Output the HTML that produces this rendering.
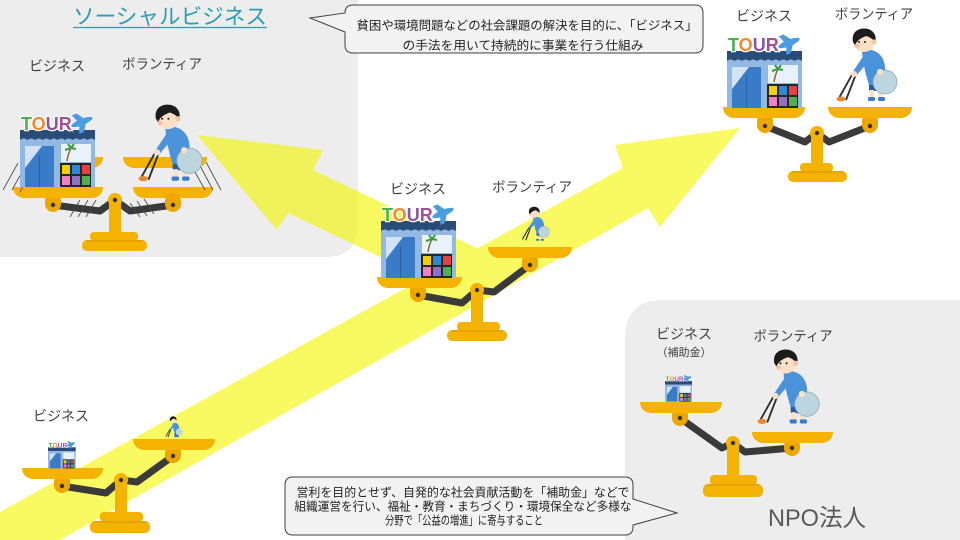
<!DOCTYPE html>
<html><head><meta charset="utf-8"><style>
html,body{margin:0;padding:0;background:#fff;}
svg{display:block;}
text{font-family:"Liberation Sans","Noto Sans CJK JP",sans-serif;}
</style></head><body>
<svg width="960" height="540" viewBox="0 0 960 540" xmlns="http://www.w3.org/2000/svg">
<!-- gray panels -->
<path d="M0,0 H358 V225 Q358,257 326,257 H0 Z" fill="#ededed"/>
<path d="M625,540 V338 Q625,300 663,300 H960 V540 Z" fill="#ededed"/>

<!-- arrows -->
<g fill="#f5f500" opacity="0.62">
<path d="M197,135 L323,150 L313,170 L485,252 L462,296 L288,213 L277,230 Z"/>
<path d="M0,512 L623,168 L615,145 L740,128 L660,227 L648,208 L60,540 L0,540 Z"/>
</g>

<!-- callout 1 -->
<path d="M353,5 H695 Q703,5 703,13 V45 Q703,53 695,53 H353 Q345,53 345,45 V32 L310,18 L345,13 Q345,5 353,5 Z" fill="#f2f2f2" stroke="#404040" stroke-width="1"/>
<text x="527" y="29.5" font-size="12" fill="#222" text-anchor="middle" textLength="341" lengthAdjust="spacingAndGlyphs">貧困や環境問題などの社会課題の解決を目的に、「ビジネス」</text>
<text x="523" y="49.5" font-size="12" fill="#222" text-anchor="middle" textLength="241" lengthAdjust="spacingAndGlyphs">の手法を用いて持続的に事業を行う仕組み</text>

<!-- callout 2 -->
<path d="M293,477 H625 Q633,477 633,485 V499 L677,513 L633,525 V527 Q633,535 625,535 H293 Q285,535 285,527 V485 Q285,477 293,477 Z" fill="#f2f2f2" stroke="#404040" stroke-width="1"/>
<text x="463" y="496.5" font-size="12" fill="#222" text-anchor="middle" textLength="333" lengthAdjust="spacingAndGlyphs">営利を目的とせず、自発的な社会貢献活動を「補助金」などで</text>
<text x="463" y="510.5" font-size="12" fill="#222" text-anchor="middle" textLength="337" lengthAdjust="spacingAndGlyphs">組織運営を行い、福祉・教育・まちづくり・環境保全など多様な</text>
<text x="464" y="524.5" font-size="12" fill="#222" text-anchor="middle" textLength="158" lengthAdjust="spacingAndGlyphs">分野で「公益の増進」に寄与すること</text>

<!-- title -->
<text x="73" y="24" font-size="21.5" fill="#2a9db0" textLength="194" lengthAdjust="spacingAndGlyphs">ソーシャルビジネス</text>
<line x1="73" y1="27.5" x2="267" y2="27.5" stroke="#2a9db0" stroke-width="1.3"/>

<!-- ========== TOP-LEFT SCALE ========== -->
<g>
<path d="M24,157 H103 C103,163 99,167 93,168 H34 C28,167 24,163 24,157 Z" fill="#f5b301"/>
<path d="M133,187 H213 C213,193 209,197 203,198 H143 C137,197 133,193 133,187 Z" fill="#f5b301"/>
<polyline points="53,205 100,211 115,200 130,211 173,205" fill="none" stroke="#3a3a3a" stroke-width="7" stroke-linejoin="round"/>
<rect x="109" y="200" width="12" height="35" fill="#f5b301"/>
<rect x="90" y="232" width="48" height="9" rx="4" fill="#f5b301"/>
<rect x="82" y="240" width="65" height="11" rx="5" fill="#f5b301"/>
<line x1="86" y1="241" x2="143" y2="241" stroke="#d99600" stroke-width="1"/>
<rect x="45" y="193" width="16" height="19" rx="8" fill="#eea600"/>
<circle cx="53" cy="205" r="2.2" fill="#333"/>
<rect x="165" y="193" width="16" height="19" rx="8" fill="#eea600"/>
<circle cx="173" cy="205" r="2.2" fill="#333"/>
<path d="M13,187 H103 C103,193 99,197 93,198 H23 C17,197 13,193 13,187 Z" fill="#f5b301"/>
<path d="M123,157 H207 C207,163 203,167 197,168 H133 C127,167 123,163 123,157 Z" fill="#f5b301"/>
<circle cx="115" cy="200" r="7" fill="#f5b301"/>
<circle cx="115" cy="200" r="2.2" fill="#333"/>
<g stroke="#444" stroke-width="0.8">
<line x1="3" y1="190" x2="18" y2="163"/><line x1="12" y1="190" x2="27" y2="163"/><line x1="20" y1="192" x2="33" y2="167"/>
<line x1="190" y1="163" x2="205" y2="190"/><line x1="198" y1="162" x2="213" y2="190"/><line x1="206" y1="162" x2="221" y2="190"/>
<line x1="70" y1="217" x2="80" y2="200"/><line x1="78" y1="217" x2="88" y2="200"/><line x1="86" y1="217" x2="96" y2="200"/>
<line x1="130" y1="203" x2="140" y2="217"/><line x1="137" y1="201" x2="147" y2="216"/><line x1="144" y1="199" x2="154" y2="214"/>
</g>
</g>

<!-- ========== TOP-RIGHT SCALE ========== -->
<g>
<polyline points="765,126 805,142 817,133 829,142 870,126" fill="none" stroke="#3a3a3a" stroke-width="7" stroke-linejoin="round"/>
<rect x="811" y="133" width="12" height="32" fill="#f5b301"/>
<rect x="800" y="163" width="33" height="9" rx="4" fill="#f5b301"/>
<rect x="788" y="171" width="59" height="11" rx="5" fill="#f5b301"/>
<line x1="792" y1="172" x2="843" y2="172" stroke="#d99600" stroke-width="1"/>
<rect x="757" y="113" width="16" height="20" rx="8" fill="#eea600"/>
<circle cx="765" cy="126" r="2.2" fill="#333"/>
<rect x="862" y="113" width="16" height="20" rx="8" fill="#eea600"/>
<circle cx="870" cy="126" r="2.2" fill="#333"/>
<path d="M723,107 H805 C805,113 801,117 795,118 H733 C727,117 723,113 723,107 Z" fill="#f5b301"/>
<path d="M828,107 H912 C912,113 908,117 902,118 H838 C832,117 828,113 828,107 Z" fill="#f5b301"/>
<circle cx="817" cy="133" r="7" fill="#f5b301"/>
<circle cx="817" cy="133" r="2.2" fill="#333"/>
</g>

<!-- ========== MIDDLE SCALE ========== -->
<g>
<polyline points="418,295 462,303 477,290 494,292 530,265" fill="none" stroke="#3a3a3a" stroke-width="7" stroke-linejoin="round"/>
<rect x="471" y="290" width="12" height="34" fill="#f5b301"/>
<rect x="457" y="322" width="43" height="9" rx="4" fill="#f5b301"/>
<rect x="447" y="330" width="60" height="11" rx="5" fill="#f5b301"/>
<line x1="451" y1="331" x2="503" y2="331" stroke="#d99600" stroke-width="1"/>
<rect x="410" y="283" width="16" height="19" rx="8" fill="#eea600"/>
<circle cx="418" cy="295" r="2.2" fill="#333"/>
<rect x="522" y="253" width="16" height="19" rx="8" fill="#eea600"/>
<circle cx="530" cy="265" r="2.2" fill="#333"/>
<path d="M377,277 H462 C462,283 458,287 452,288 H387 C381,287 377,283 377,277 Z" fill="#f5b301"/>
<path d="M488,247 H572 C572,253 568,257 562,258 H498 C492,257 488,253 488,247 Z" fill="#f5b301"/>
<circle cx="477" cy="290" r="7" fill="#f5b301"/>
<circle cx="477" cy="290" r="2.2" fill="#333"/>
</g>

<!-- ========== BOTTOM-LEFT SCALE ========== -->
<g>
<polyline points="62,486 106,493 121,480 137,482 173,456" fill="none" stroke="#3a3a3a" stroke-width="7" stroke-linejoin="round"/>
<rect x="115" y="480" width="12" height="34" fill="#f5b301"/>
<rect x="100" y="512" width="43" height="10" rx="4" fill="#f5b301"/>
<rect x="90" y="521" width="60" height="12" rx="5" fill="#f5b301"/>
<line x1="94" y1="522" x2="146" y2="522" stroke="#d99600" stroke-width="1"/>
<rect x="54" y="474" width="16" height="19" rx="8" fill="#eea600"/>
<circle cx="62" cy="486" r="2.2" fill="#333"/>
<rect x="165" y="445" width="16" height="18" rx="8" fill="#eea600"/>
<circle cx="173" cy="456" r="2.2" fill="#333"/>
<path d="M22,468 H103 C103,474 99,478 93,479 H32 C26,478 22,474 22,468 Z" fill="#f5b301"/>
<path d="M133,439 H215 C215,445 211,449 205,450 H143 C137,449 133,445 133,439 Z" fill="#f5b301"/>
<circle cx="121" cy="480" r="7" fill="#f5b301"/>
<circle cx="121" cy="480" r="2.2" fill="#333"/>
</g>

<!-- ========== NPO SCALE ========== -->
<g>
<polyline points="680,418 722,448 733,443 745,452 792,448" fill="none" stroke="#3a3a3a" stroke-width="7" stroke-linejoin="round"/>
<rect x="727" y="443" width="12" height="34" fill="#f5b301"/>
<rect x="710" y="475" width="47" height="10" rx="4" fill="#f5b301"/>
<rect x="703" y="484" width="60" height="13" rx="5" fill="#f5b301"/>
<line x1="707" y1="485" x2="759" y2="485" stroke="#d99600" stroke-width="1"/>
<rect x="672" y="408" width="16" height="18" rx="8" fill="#eea600"/>
<circle cx="680" cy="418" r="2.2" fill="#333"/>
<rect x="784" y="438" width="16" height="18" rx="8" fill="#eea600"/>
<circle cx="792" cy="448" r="2.2" fill="#333"/>
<path d="M640,402 H722 C722,408 718,412 712,413 H650 C644,412 640,408 640,402 Z" fill="#f5b301"/>
<path d="M752,432 H833 C833,438 829,442 823,443 H762 C756,442 752,438 752,432 Z" fill="#f5b301"/>
<circle cx="733" cy="443" r="7" fill="#f5b301"/>
<circle cx="733" cy="443" r="2.2" fill="#333"/>
</g>

<!-- ========== STORES ========== -->
<g transform="translate(20,113)">
<rect x="0" y="17" width="75" height="10" fill="#2b4b78"/>
<path d="M0,27 Q3.75,24 7.5,27 Q11.25,24 15,27 Q18.75,24 22.5,27 Q26.25,24 30,27 Q33.75,24 37.5,27 Q41.25,24 45,27 Q48.75,24 52.5,27 Q56.25,24 60,27 Q63.75,24 67.5,27 Q71.25,24 75,27 V74 H0 Z" fill="#92b8e4"/>
<rect x="5" y="33" width="29" height="41" fill="#3a7bc8"/>
<path d="M5,33 H22 L5,55 Z" fill="#d3e3f5"/>
<line x1="19.5" y1="42" x2="19.5" y2="74" stroke="#245a9e" stroke-width="0.8"/>
<rect x="41" y="31" width="30" height="18" fill="#e9f2fa"/>
<path d="M47,48 Q48,41 51,35" stroke="#8a6a3a" stroke-width="1.5" fill="none"/>
<path d="M51,35 l-6,2 M51,35 l5,1 M51,35 l-3,-4 M51,35 l3,-4" stroke="#3f9a3f" stroke-width="2" fill="none"/>
<rect x="40" y="50" width="31" height="24" fill="#262626"/>
<rect x="42" y="52" width="8" height="9" fill="#f5d000"/><rect x="52" y="52" width="8" height="9" fill="#2a8ad8"/><rect x="62" y="52" width="8" height="9" fill="#e84040"/>
<rect x="42" y="63" width="8" height="9" fill="#f080c0"/><rect x="52" y="63" width="8" height="9" fill="#9070c0"/><rect x="62" y="63" width="8" height="9" fill="#50b050"/>
<text x="1" y="17" font-family="Liberation Sans" font-weight="bold" font-size="18" stroke="#fff" stroke-width="2.5" paint-order="stroke"><tspan fill="#4db04a">T</tspan><tspan fill="#f08a2a">O</tspan><tspan fill="#8b55a8">U</tspan><tspan fill="#a0509a">R</tspan></text>
<g transform="translate(62,9) rotate(-22)"><ellipse rx="12" ry="3.8" fill="#4a9de0" stroke="#fff" stroke-width="1"/><path d="M-3,0 L-7,-10 L-2,-10 L5,0 L-2,10 L-7,10 Z" fill="#4a9de0"/></g>
</g>

<g transform="translate(727,34)">
<rect x="0" y="17" width="75" height="10" fill="#2b4b78"/>
<path d="M0,27 Q3.75,24 7.5,27 Q11.25,24 15,27 Q18.75,24 22.5,27 Q26.25,24 30,27 Q33.75,24 37.5,27 Q41.25,24 45,27 Q48.75,24 52.5,27 Q56.25,24 60,27 Q63.75,24 67.5,27 Q71.25,24 75,27 V74 H0 Z" fill="#92b8e4"/>
<rect x="5" y="33" width="29" height="41" fill="#3a7bc8"/>
<path d="M5,33 H22 L5,55 Z" fill="#d3e3f5"/>
<line x1="19.5" y1="42" x2="19.5" y2="74" stroke="#245a9e" stroke-width="0.8"/>
<rect x="41" y="31" width="30" height="18" fill="#e9f2fa"/>
<path d="M47,48 Q48,41 51,35" stroke="#8a6a3a" stroke-width="1.5" fill="none"/>
<path d="M51,35 l-6,2 M51,35 l5,1 M51,35 l-3,-4 M51,35 l3,-4" stroke="#3f9a3f" stroke-width="2" fill="none"/>
<rect x="40" y="50" width="31" height="24" fill="#262626"/>
<rect x="42" y="52" width="8" height="9" fill="#f5d000"/><rect x="52" y="52" width="8" height="9" fill="#2a8ad8"/><rect x="62" y="52" width="8" height="9" fill="#e84040"/>
<rect x="42" y="63" width="8" height="9" fill="#f080c0"/><rect x="52" y="63" width="8" height="9" fill="#9070c0"/><rect x="62" y="63" width="8" height="9" fill="#50b050"/>
<text x="1" y="17" font-family="Liberation Sans" font-weight="bold" font-size="18" stroke="#fff" stroke-width="2.5" paint-order="stroke"><tspan fill="#4db04a">T</tspan><tspan fill="#f08a2a">O</tspan><tspan fill="#8b55a8">U</tspan><tspan fill="#a0509a">R</tspan></text>
<g transform="translate(62,9) rotate(-22)"><ellipse rx="12" ry="3.8" fill="#4a9de0" stroke="#fff" stroke-width="1"/><path d="M-3,0 L-7,-10 L-2,-10 L5,0 L-2,10 L-7,10 Z" fill="#4a9de0"/></g>
</g>

<g transform="translate(381,204)">
<rect x="0" y="17" width="75" height="10" fill="#2b4b78"/>
<path d="M0,27 Q3.75,24 7.5,27 Q11.25,24 15,27 Q18.75,24 22.5,27 Q26.25,24 30,27 Q33.75,24 37.5,27 Q41.25,24 45,27 Q48.75,24 52.5,27 Q56.25,24 60,27 Q63.75,24 67.5,27 Q71.25,24 75,27 V74 H0 Z" fill="#92b8e4"/>
<rect x="5" y="33" width="29" height="41" fill="#3a7bc8"/>
<path d="M5,33 H22 L5,55 Z" fill="#d3e3f5"/>
<line x1="19.5" y1="42" x2="19.5" y2="74" stroke="#245a9e" stroke-width="0.8"/>
<rect x="41" y="31" width="30" height="18" fill="#e9f2fa"/>
<path d="M47,48 Q48,41 51,35" stroke="#8a6a3a" stroke-width="1.5" fill="none"/>
<path d="M51,35 l-6,2 M51,35 l5,1 M51,35 l-3,-4 M51,35 l3,-4" stroke="#3f9a3f" stroke-width="2" fill="none"/>
<rect x="40" y="50" width="31" height="24" fill="#262626"/>
<rect x="42" y="52" width="8" height="9" fill="#f5d000"/><rect x="52" y="52" width="8" height="9" fill="#2a8ad8"/><rect x="62" y="52" width="8" height="9" fill="#e84040"/>
<rect x="42" y="63" width="8" height="9" fill="#f080c0"/><rect x="52" y="63" width="8" height="9" fill="#9070c0"/><rect x="62" y="63" width="8" height="9" fill="#50b050"/>
<text x="1" y="17" font-family="Liberation Sans" font-weight="bold" font-size="18" stroke="#fff" stroke-width="2.5" paint-order="stroke"><tspan fill="#4db04a">T</tspan><tspan fill="#f08a2a">O</tspan><tspan fill="#8b55a8">U</tspan><tspan fill="#a0509a">R</tspan></text>
<g transform="translate(62,9) rotate(-22)"><ellipse rx="12" ry="3.8" fill="#4a9de0" stroke="#fff" stroke-width="1"/><path d="M-3,0 L-7,-10 L-2,-10 L5,0 L-2,10 L-7,10 Z" fill="#4a9de0"/></g>
</g>

<g transform="translate(48,441) scale(0.37)">
<rect x="0" y="17" width="75" height="10" fill="#2b4b78"/>
<rect x="0" y="27" width="75" height="47" fill="#92b8e4"/>
<rect x="5" y="33" width="29" height="41" fill="#3a7bc8"/>
<path d="M5,33 H22 L5,55 Z" fill="#d3e3f5"/>
<rect x="41" y="31" width="30" height="18" fill="#e9f2fa"/>
<rect x="40" y="50" width="31" height="24" fill="#262626"/>
<rect x="42" y="52" width="8" height="9" fill="#f5d000"/><rect x="52" y="52" width="8" height="9" fill="#2a8ad8"/><rect x="62" y="52" width="8" height="9" fill="#e84040"/>
<rect x="42" y="63" width="8" height="9" fill="#f080c0"/><rect x="52" y="63" width="8" height="9" fill="#9070c0"/><rect x="62" y="63" width="8" height="9" fill="#50b050"/>
<text x="1" y="17" font-family="Liberation Sans" font-weight="bold" font-size="18" stroke="#fff" stroke-width="2.5" paint-order="stroke"><tspan fill="#4db04a">T</tspan><tspan fill="#f08a2a">O</tspan><tspan fill="#8b55a8">U</tspan><tspan fill="#a0509a">R</tspan></text>
<g transform="translate(62,9) rotate(-22)"><ellipse rx="12" ry="3.8" fill="#4a9de0"/><path d="M-3,0 L-7,-10 L-2,-10 L5,0 L-2,10 L-7,10 Z" fill="#4a9de0"/></g>
</g>

<g transform="translate(665,375) scale(0.36)">
<rect x="0" y="17" width="75" height="10" fill="#2b4b78"/>
<rect x="0" y="27" width="75" height="47" fill="#92b8e4"/>
<rect x="5" y="33" width="29" height="41" fill="#3a7bc8"/>
<path d="M5,33 H22 L5,55 Z" fill="#d3e3f5"/>
<rect x="41" y="31" width="30" height="18" fill="#e9f2fa"/>
<rect x="40" y="50" width="31" height="24" fill="#262626"/>
<rect x="42" y="52" width="8" height="9" fill="#f5d000"/><rect x="52" y="52" width="8" height="9" fill="#2a8ad8"/><rect x="62" y="52" width="8" height="9" fill="#e84040"/>
<rect x="42" y="63" width="8" height="9" fill="#f080c0"/><rect x="52" y="63" width="8" height="9" fill="#9070c0"/><rect x="62" y="63" width="8" height="9" fill="#50b050"/>
<text x="1" y="17" font-family="Liberation Sans" font-weight="bold" font-size="18" stroke="#fff" stroke-width="2.5" paint-order="stroke"><tspan fill="#4db04a">T</tspan><tspan fill="#f08a2a">O</tspan><tspan fill="#8b55a8">U</tspan><tspan fill="#a0509a">R</tspan></text>
<g transform="translate(62,9) rotate(-22)"><ellipse rx="12" ry="3.8" fill="#4a9de0"/><path d="M-3,0 L-7,-10 L-2,-10 L5,0 L-2,10 L-7,10 Z" fill="#4a9de0"/></g>
</g>

<!-- ========== BOYS ========== -->
<g transform="translate(138,103) scale(1.05)">
<line x1="17" y1="46" x2="3" y2="71" stroke="#2d2d2d" stroke-width="1.8"/>
<line x1="20" y1="47" x2="10" y2="73" stroke="#2d2d2d" stroke-width="1.8"/>
<ellipse cx="5" cy="72" rx="4.5" ry="2.5" fill="#e98a2c"/>
<rect x="33" y="55" width="14" height="9" rx="2" fill="#2c5b98"/>
<rect x="34" y="63" width="4" height="8" fill="#fde0c6"/><rect x="42" y="63" width="4" height="8" fill="#fde0c6"/>
<rect x="32" y="70" width="7" height="4" rx="1.5" fill="#3a7cc9"/><rect x="42" y="70" width="7" height="4" rx="1.5" fill="#3a7cc9"/>
<path d="M26,24 C36,20 48,26 49,40 C50,50 47,58 33,58 C30,48 27,38 26,24 Z" fill="#4a92da"/>
<path d="M28,28 C24,34 20,40 16,46 L20,49 C25,43 30,38 34,32 Z" fill="#4a92da"/>
<circle cx="18" cy="47" r="3" fill="#fde0c6"/>
<circle cx="49" cy="55" r="12" fill="#bcd5df" stroke="#8eabb8" stroke-width="0.8"/>
<circle cx="44" cy="45" r="3" fill="#fde0c6"/>
<circle cx="28" cy="14" r="11" fill="#fde0c6"/>
<path d="M17,15 C15,4 24,0 32,2 C39,4 41,11 39,15 C36,11 33,10 30,9 C26,11 22,12 19,18 Z" fill="#1c1c1c"/>
<circle cx="38" cy="15" r="2.5" fill="#f6c6a4"/>
<circle cx="23" cy="15" r="1" fill="#222"/><circle cx="29" cy="15" r="1" fill="#222"/>
<circle cx="21" cy="19" r="2" fill="#f7a8a0" opacity=".7"/>
</g>

<g transform="translate(836,27)">
<line x1="17" y1="46" x2="3" y2="71" stroke="#2d2d2d" stroke-width="1.8"/>
<line x1="20" y1="47" x2="10" y2="73" stroke="#2d2d2d" stroke-width="1.8"/>
<ellipse cx="5" cy="72" rx="4.5" ry="2.5" fill="#e98a2c"/>
<rect x="33" y="55" width="14" height="9" rx="2" fill="#2c5b98"/>
<rect x="34" y="63" width="4" height="8" fill="#fde0c6"/><rect x="42" y="63" width="4" height="8" fill="#fde0c6"/>
<rect x="32" y="70" width="7" height="4" rx="1.5" fill="#3a7cc9"/><rect x="42" y="70" width="7" height="4" rx="1.5" fill="#3a7cc9"/>
<path d="M26,24 C36,20 48,26 49,40 C50,50 47,58 33,58 C30,48 27,38 26,24 Z" fill="#4a92da"/>
<path d="M28,28 C24,34 20,40 16,46 L20,49 C25,43 30,38 34,32 Z" fill="#4a92da"/>
<circle cx="18" cy="47" r="3" fill="#fde0c6"/>
<circle cx="49" cy="55" r="12" fill="#bcd5df" stroke="#8eabb8" stroke-width="0.8"/>
<circle cx="44" cy="45" r="3" fill="#fde0c6"/>
<circle cx="28" cy="14" r="11" fill="#fde0c6"/>
<path d="M17,15 C15,4 24,0 32,2 C39,4 41,11 39,15 C36,11 33,10 30,9 C26,11 22,12 19,18 Z" fill="#1c1c1c"/>
<circle cx="38" cy="15" r="2.5" fill="#f6c6a4"/>
<circle cx="23" cy="15" r="1" fill="#222"/><circle cx="29" cy="15" r="1" fill="#222"/>
<circle cx="21" cy="19" r="2" fill="#f7a8a0" opacity=".7"/>
</g>

<g transform="translate(757,348) scale(1.02)">
<line x1="17" y1="46" x2="3" y2="71" stroke="#2d2d2d" stroke-width="1.8"/>
<line x1="20" y1="47" x2="10" y2="73" stroke="#2d2d2d" stroke-width="1.8"/>
<ellipse cx="5" cy="72" rx="4.5" ry="2.5" fill="#e98a2c"/>
<rect x="33" y="55" width="14" height="9" rx="2" fill="#2c5b98"/>
<rect x="34" y="63" width="4" height="8" fill="#fde0c6"/><rect x="42" y="63" width="4" height="8" fill="#fde0c6"/>
<rect x="32" y="70" width="7" height="4" rx="1.5" fill="#3a7cc9"/><rect x="42" y="70" width="7" height="4" rx="1.5" fill="#3a7cc9"/>
<path d="M26,24 C36,20 48,26 49,40 C50,50 47,58 33,58 C30,48 27,38 26,24 Z" fill="#4a92da"/>
<path d="M28,28 C24,34 20,40 16,46 L20,49 C25,43 30,38 34,32 Z" fill="#4a92da"/>
<circle cx="18" cy="47" r="3" fill="#fde0c6"/>
<circle cx="49" cy="55" r="12" fill="#bcd5df" stroke="#8eabb8" stroke-width="0.8"/>
<circle cx="44" cy="45" r="3" fill="#fde0c6"/>
<circle cx="28" cy="14" r="11" fill="#fde0c6"/>
<path d="M17,15 C15,4 24,0 32,2 C39,4 41,11 39,15 C36,11 33,10 30,9 C26,11 22,12 19,18 Z" fill="#1c1c1c"/>
<circle cx="38" cy="15" r="2.5" fill="#f6c6a4"/>
<circle cx="23" cy="15" r="1" fill="#222"/><circle cx="29" cy="15" r="1" fill="#222"/>
<circle cx="21" cy="19" r="2" fill="#f7a8a0" opacity=".7"/>
</g>

<g transform="translate(521,206) scale(0.47)">
<line x1="17" y1="46" x2="3" y2="71" stroke="#2d2d2d" stroke-width="2.5"/>
<line x1="20" y1="47" x2="10" y2="73" stroke="#2d2d2d" stroke-width="2.5"/>
<rect x="33" y="55" width="14" height="9" rx="2" fill="#2c5b98"/>
<rect x="34" y="63" width="4" height="8" fill="#fde0c6"/><rect x="42" y="63" width="4" height="8" fill="#fde0c6"/>
<rect x="32" y="70" width="7" height="4" rx="1.5" fill="#3a7cc9"/><rect x="42" y="70" width="7" height="4" rx="1.5" fill="#3a7cc9"/>
<path d="M26,24 C36,20 48,26 49,40 C50,50 47,58 33,58 C30,48 27,38 26,24 Z" fill="#4a92da"/>
<path d="M28,28 C24,34 20,40 16,46 L20,49 C25,43 30,38 34,32 Z" fill="#4a92da"/>
<circle cx="49" cy="55" r="12" fill="#bcd5df" stroke="#8eabb8" stroke-width="0.8"/>
<circle cx="28" cy="14" r="11" fill="#fde0c6"/>
<path d="M17,15 C15,4 24,0 32,2 C39,4 41,11 39,15 C36,11 33,10 30,9 C26,11 22,12 19,18 Z" fill="#1c1c1c"/>
</g>

<g transform="translate(165,416) scale(0.29)">
<line x1="17" y1="46" x2="3" y2="71" stroke="#2d2d2d" stroke-width="3"/>
<line x1="20" y1="47" x2="10" y2="73" stroke="#2d2d2d" stroke-width="3"/>
<rect x="33" y="55" width="14" height="9" rx="2" fill="#2c5b98"/>
<rect x="32" y="63" width="16" height="10" fill="#3a7cc9"/>
<path d="M26,24 C36,20 48,26 49,40 C50,50 47,58 33,58 C30,48 27,38 26,24 Z" fill="#4a92da"/>
<path d="M28,28 C24,34 20,40 16,46 L20,49 C25,43 30,38 34,32 Z" fill="#4a92da"/>
<circle cx="49" cy="55" r="12" fill="#bcd5df"/>
<circle cx="28" cy="14" r="11" fill="#fde0c6"/>
<path d="M17,15 C15,4 24,0 32,2 C39,4 41,11 39,15 C36,11 33,10 30,9 C26,11 22,12 19,18 Z" fill="#1c1c1c"/>
</g>

<!-- ========== LABELS ========== -->
<g fill="#404040" font-size="14" text-anchor="middle">
<text x="57" y="71">ビジネス</text>
<text x="162" y="69" textLength="80" lengthAdjust="spacingAndGlyphs">ボランティア</text>
<text x="764" y="21">ビジネス</text>
<text x="874" y="19" textLength="78" lengthAdjust="spacingAndGlyphs">ボランティア</text>
<text x="418" y="194">ビジネス</text>
<text x="532" y="192" textLength="80" lengthAdjust="spacingAndGlyphs">ボランティア</text>
<text x="61" y="421">ビジネス</text>
<text x="684" y="339">ビジネス</text>
<text x="684" y="356" font-size="11">（補助金）</text>
<text x="793" y="341" textLength="79" lengthAdjust="spacingAndGlyphs">ボランティア</text>
</g>
<text x="768" y="526" font-size="24" fill="#595959" textLength="98" lengthAdjust="spacingAndGlyphs">NPO法人</text>
</svg>
</body></html>
